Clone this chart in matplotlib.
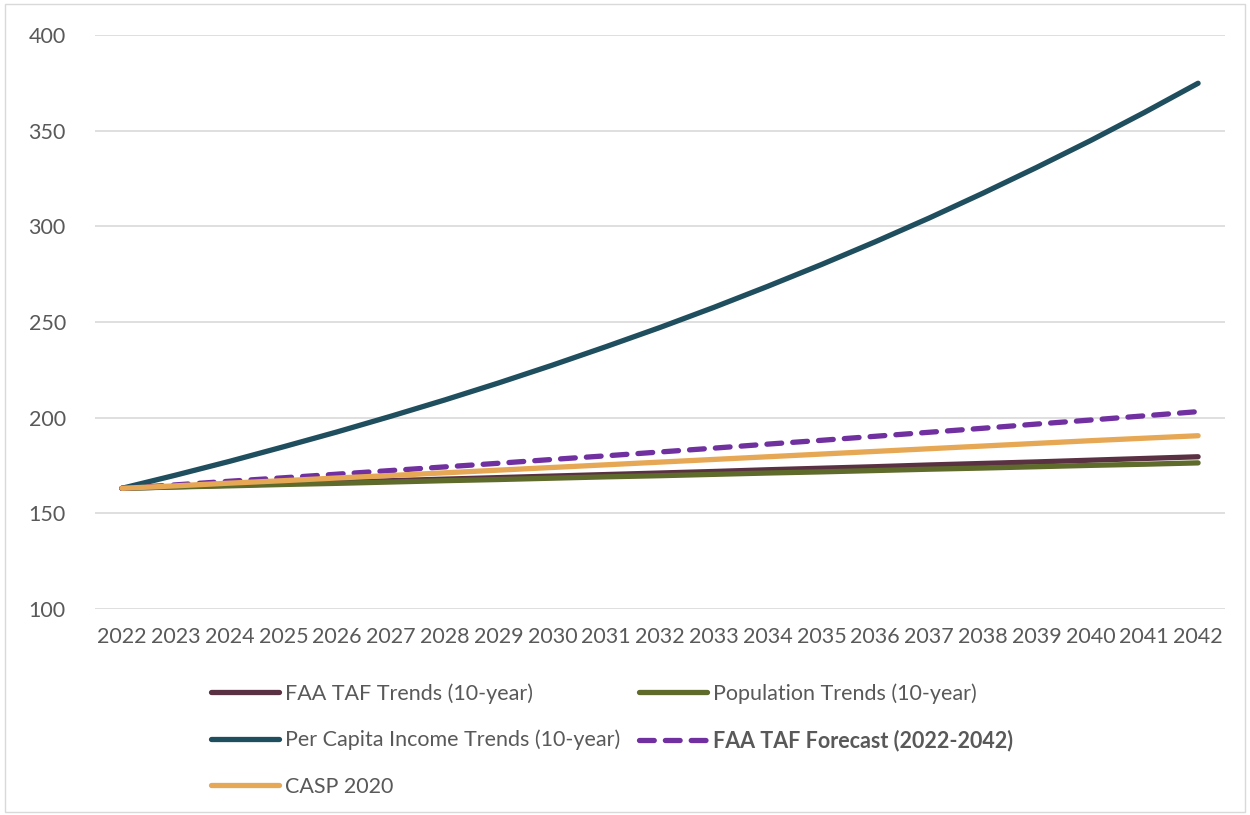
import matplotlib.pyplot as plt
from matplotlib.patches import Rectangle

years = list(range(2022, 2043))

# values
faa_taf_trends = [163.0, 163.8, 164.6, 165.4, 166.2, 167.0, 167.8, 168.6, 169.4, 170.2, 171.0,
                  171.8, 172.7, 173.5, 174.3, 175.2, 176.0, 176.8, 177.7, 178.6, 179.5]
population = [163.0, 163.7, 164.3, 165.0, 165.6, 166.3, 167.0, 167.6, 168.3, 169.0, 169.6,
              170.3, 171.0, 171.6, 172.3, 173.0, 173.6, 174.3, 175.0, 175.6, 176.3]
per_capita = [163.0, 169.9, 177.1, 184.7, 192.5, 200.7, 209.2, 218.1, 227.4, 237.1, 247.1,
              257.6, 268.6, 280.0, 291.9, 304.3, 317.3, 330.8, 344.8, 359.5, 374.8]
taf_forecast = [163.0, 164.8, 166.7, 168.5, 170.4, 172.3, 174.2, 176.1, 178.1, 180.0, 182.0,
                184.0, 186.1, 188.1, 190.2, 192.3, 194.4, 196.6, 198.7, 200.9, 203.1]
casp_2020 = [163.0, 164.3, 165.7, 167.0, 168.4, 169.7, 171.1, 172.5, 173.9, 175.3, 176.7,
             178.1, 179.5, 180.9, 182.3, 183.7, 185.1, 186.5, 187.9, 189.2, 190.5]

labels = ["FAA TAF Trends (10-year)", "Population Trends (10-year)",
          "Per Capita Income Trends (10-year)", "FAA TAF Forecast (2022-2042)", "CASP 2020"]

plt.rcParams['font.family'] = ['Lato', 'DejaVu Sans']

fig = plt.figure(figsize=(12.5, 8.15), dpi=100)
ax = fig.add_axes([0.076, 0.253, 0.904, 0.704])

lw = 3.8
l1, = ax.plot(years, faa_taf_trends, color="#5a3142", lw=lw, solid_capstyle="round")
l2, = ax.plot(years, population, color="#5e6b2b", lw=lw, solid_capstyle="round")
l3, = ax.plot(years, per_capita, color="#1f4e5e", lw=lw, solid_capstyle="round")
l4, = ax.plot(years, taf_forecast, color="#7030a0", lw=lw, dashes=(2.8, 2.1),
              dash_capstyle="round")
l5, = ax.plot(years, casp_2020, color="#e6a855", lw=lw, solid_capstyle="round")

ax.set_xlim(2021.5, 2042.5)
ax.set_ylim(100, 400)
ax.set_xticks(years)
ax.set_yticks(range(100, 401, 50))
ax.grid(axis="y", color="#d9d9d9", lw=1.2)
ax.set_axisbelow(True)
for s in ax.spines.values():
    s.set_visible(False)
ax.tick_params(length=0, labelsize=15.5, colors="#595959")
ax.tick_params(axis="x", pad=13)
ax.tick_params(axis="y", pad=21)

handles = [l1, l3, l5, l2, l4]
names = [labels[0], labels[2], labels[4], labels[1], labels[3]]
leg = fig.legend(handles, names, loc="upper left", bbox_to_anchor=(211 / 1250, 1 - 683 / 815),
                 ncol=2, frameon=False, fontsize=15.5, handlelength=3.15, handletextpad=0.3,
                 columnspacing=0.85, labelspacing=1.22, borderpad=0, borderaxespad=0)
for t in leg.get_texts():
    t.set_color("#595959")
    if t.get_text().startswith("FAA TAF Forecast"):
        t.set_fontweight("bold")

fig.patches.append(Rectangle((0.004, 0.004), 0.992, 0.991, transform=fig.transFigure,
                             fill=False, edgecolor="#d9d9d9", lw=1))

fig.savefig("out.png", dpi=100)
